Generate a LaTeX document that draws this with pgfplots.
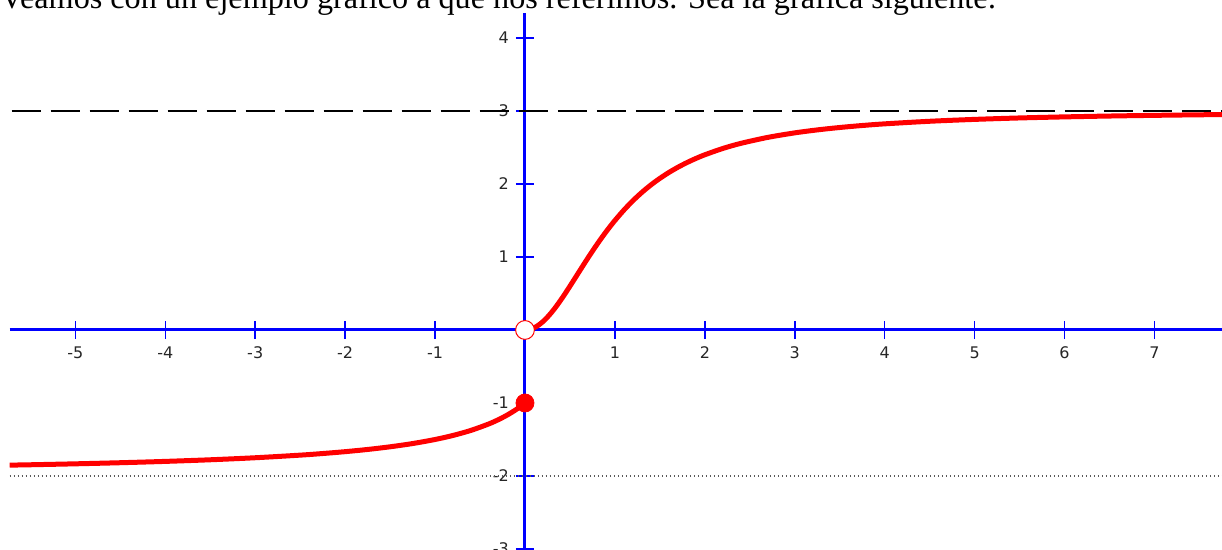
\documentclass[border=0pt]{standalone}
\usepackage{fontspec}
\setmainfont{Liberation Serif}
\newfontfamily\tickfont{DejaVu Sans}
\usepackage{pgfplots}
\pgfplotsset{compat=1.18}
\definecolor{curvered}{rgb}{1,0,0}
\definecolor{axisblue}{rgb}{0,0,1}

\begin{document}
\begin{tikzpicture}
\begin{axis}[
  x=44.96pt, y=36.5pt,
  xmin=-5.73, xmax=7.75, ymin=-3.1, ymax=4.34,
  axis lines=middle,
  axis line style={axisblue, line width=1.5pt, -},
  xtick={-5,-4,-3,-2,-1,1,2,3,4,5,6,7},
  xticklabels={-5,-4,-3,-2,-1,1,2,3,4,5,6,7},
  ytick={-3,-2,-1,1,2,3,4},
  yticklabels={-3,-2,-1,1,2,3,4},
  tick align=center,
  major tick length=9pt,
  tick style={axisblue, line width=0.75pt},
  tick label style={font=\tickfont\fontsize{8}{9}\selectfont, text=black!85},
  xticklabel style={anchor=north, yshift=-0.5pt},
  yticklabel style={anchor=east, xshift=0pt},
  clip=false,
]
% asymptote lines
\addplot[black, line width=0.75pt, dash pattern=on 14.5pt off 5pt, dash phase=-1pt]
  coordinates {(-5.73,3) (7.75,3)};
\addplot[black!65, line width=0.7pt, dash pattern=on 0.6pt off 1.4pt]
  coordinates {(-5.73,-2) (7.75,-2)};
% left branch
\addplot[curvered, line width=2.5pt, smooth] coordinates {
  (-5.73,-1.8512) (-5.5,-1.8462) (-5,-1.8333) (-4.5,-1.8182) (-4,-1.8)
  (-3.5,-1.7778) (-3,-1.75) (-2.5,-1.7143) (-2.25,-1.6923) (-2,-1.6667)
  (-1.75,-1.6364) (-1.5,-1.6) (-1.25,-1.5556) (-1,-1.5) (-0.8,-1.4444)
  (-0.6,-1.375) (-0.4,-1.2857) (-0.3,-1.2308) (-0.25,-1.2) (-0.2,-1.1667)
  (-0.15,-1.1304) (-0.1,-1.0909) (-0.05,-1.0476) (0,-1)
};
% right branch
\addplot[curvered, line width=2.5pt, smooth] coordinates {
  (0,0) (0.05,0.0075) (0.1,0.0297) (0.15,0.066) (0.2,0.1154) (0.25,0.1765)
  (0.3,0.2477) (0.35,0.3274) (0.4,0.4138) (0.45,0.5052) (0.5,0.6)
  (0.55,0.6967) (0.6,0.7941) (0.65,0.891) (0.7,0.9866) (0.75,1.08)
  (0.8,1.1707) (0.85,1.2583) (0.9,1.3425) (0.95,1.4231) (1,1.5)
  (1.1,1.6425) (1.2,1.7705) (1.3,1.8848) (1.4,1.9865) (1.5,2.0769)
  (1.6,2.1573) (1.7,2.2288) (1.8,2.2925) (1.9,2.3492) (2,2.4)
  (2.2,2.4863) (2.4,2.5562) (2.7,2.6381) (3,2.7) (3.25,2.7405)
  (3.5,2.7736) (3.75,2.8008) (4,2.8235) (4.5,2.8588) (5,2.8846)
  (5.5,2.9043) (6,2.9189) (6.5,2.9306) (7,2.94) (7.5,2.9475) (7.75,2.9505)
};
% endpoints
\addplot[only marks, mark=*, mark size=4.7pt,
  mark options={fill=white, draw=curvered, line width=0.5pt}] coordinates {(0,0)};
\addplot[only marks, mark=*, mark size=4.5pt, curvered] coordinates {(0,-1)};
\node[anchor=base west, inner sep=0pt, font=\fontsize{16.1}{18}\selectfont]
  at (axis cs:-5.838,4.41)
  {Veamos con un ejemplo gráfico a qué nos referimos. Sea la gráfica siguiente:};
\coordinate (BL) at (axis cs:-5.838,-3.0);
\coordinate (TR) at (axis cs:7.751,4.52);
\end{axis}
\pgfresetboundingbox
\useasboundingbox (BL) rectangle (TR);
\end{tikzpicture}
\end{document}
